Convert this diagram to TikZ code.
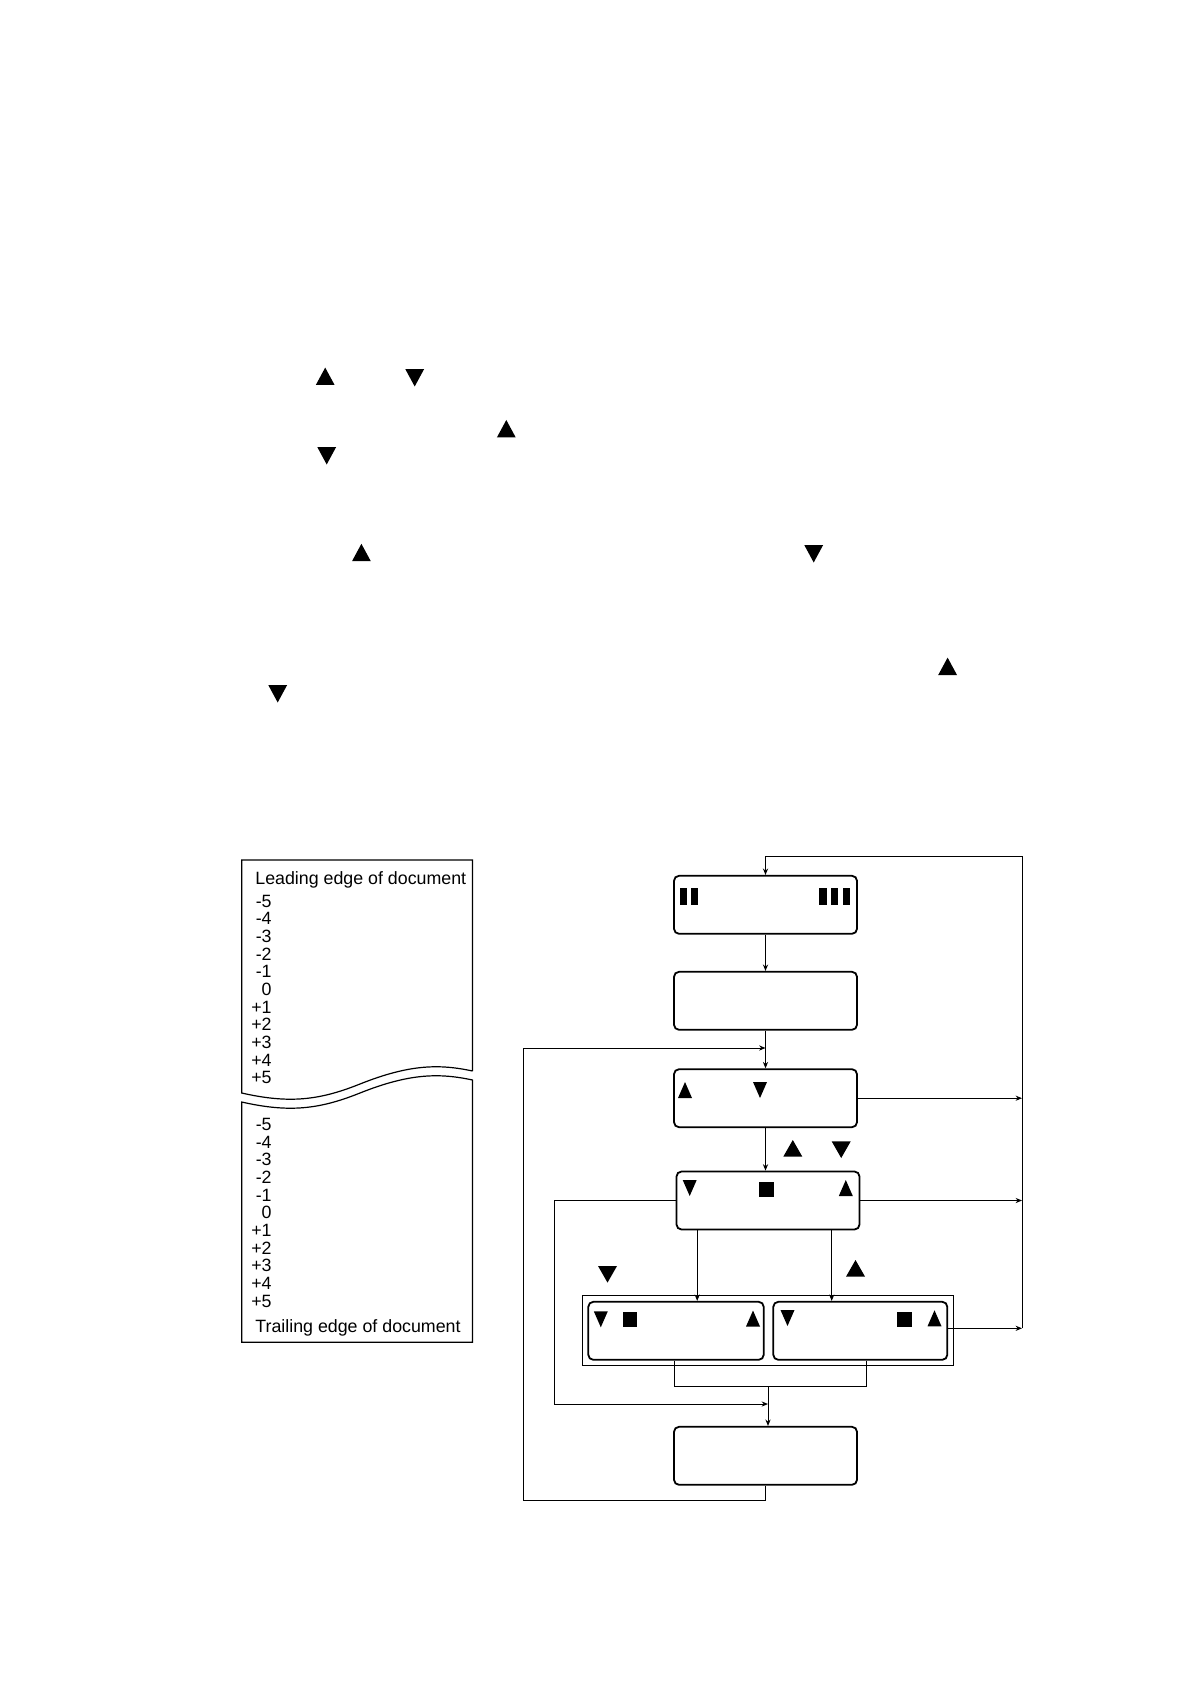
\documentclass[tikz,border=0pt]{standalone}
\usepackage{fontspec}
\setmainfont{Liberation Sans}
\usetikzlibrary{arrows.meta, calc, fit}

\tikzset{
  upmark/.pic = {\fill (-1,1) -- (1,1) -- (0,-1) -- cycle;},
  downmark/.pic = {\fill (-1,-1) -- (1,-1) -- (0,1) -- cycle;},
  stopmark/.pic = {\fill (-1,-1) rectangle (1,1);}
}

\begin{document}
\begin{tikzpicture}[x=0.5pt, y=-0.5pt, >={Stealth[length=3.2pt, width=2.6pt]},
  panel/.style = {draw, line width=0.9pt, rounded corners=2.5pt, inner sep=0pt,
                  minimum width=91.5pt, minimum height=29pt},
  link/.style = {line width=0.5pt},
  edgetext/.style = {inner sep=0pt, font=\fontsize{8.9pt}{10pt}\selectfont},
  textmark/.style = {xscale=9.4, yscale=8.7},
  panelmark/.style = {xscale=7, yscale=8},
  keymark/.style = {xscale=9.5, yscale=8.3},
  stopsize/.style = {scale=7.25}]
  \useasboundingbox (0,0) rectangle (1190,1684);

  % marks left over from the instructions
  \foreach \x/\y in {325.2/376.3, 506.3/428.7, 361.4/552.5, 947.6/666.3}
    \pic[textmark] at (\x,\y) {upmark};
  \foreach \x/\y in {414.7/377.8, 326.7/455.8, 813.7/553.8, 277.7/693.8}
    \pic[textmark] at (\x,\y) {downmark};

  % document sheet
  \draw[line width=0.6pt] (472.5,1071) -- (472.5,860) -- (241.7,860) -- (241.7,1093)
    .. controls (290,1104) and (320,1100) .. (360,1084)
    .. controls (410,1064) and (440,1064) .. (472.5,1071);
  \draw[line width=0.6pt] (241.7,1102)
    .. controls (290,1113) and (320,1109) .. (360,1093)
    .. controls (410,1073) and (440,1073) .. (472.5,1080)
    -- (472.5,1342.3) -- (241.7,1342.3) -- cycle;
  \node[edgetext, anchor=base west] (lead edge) at (255,884) {Leading edge of document};
  \foreach \val [count=\i from 0] in {-5,-4,-3,-2,-1,0,+1,+2,+3,+4,+5} {
    \node[edgetext, anchor=base east] (ln\i) at (272,{907+17.67*\i}) {\val};
    \node[edgetext, anchor=base east] (tn\i) at (272,{1130.5+17.67*\i}) {\val};
  }
  \node[edgetext, anchor=base west] (trail edge) at (255,1332.3) {Trailing edge of document};

  % display panels
  \node[panel] (ready) at (765.5,904.8) {};
  \node[panel] (menu) at (765.5,1000.8) {};
  \node[panel] (pick) at (765.5,1098.2) {};
  \node[panel] (side) at (768,1200.5) {};
  \node[panel, minimum width=87.7pt] (lead) at (676,1330.8) {};
  \node[panel, minimum width=87pt] (trail) at (860.3,1330.8) {};
  \node[draw, link, fit=(lead)(trail), inner sep=2.6pt] (pair) {};
  \node[panel] (done) at (765.5,1455.8) {};

  % panel contents
  \foreach \x in {680,690.5}
    \fill (\x,887.5) rectangle ++(7,17.5);
  \foreach \x in {819,830.8,842.5}
    \fill (\x,887.5) rectangle ++(7.6,17.5);
  \foreach \x/\y in {685/1090, 845.8/1188, 753/1318.5, 934.5/1318.3}
    \pic[panelmark] at (\x,\y) {upmark};
  \foreach \x/\y in {760/1090, 689.7/1188, 600.8/1319.3, 787.5/1318}
    \pic[panelmark] at (\x,\y) {downmark};
  \foreach \x/\y in {766.5/1189.3, 630/1319.7, 904.5/1319.3}
    \pic[stopsize] at (\x,\y) {stopmark};

  % key marks beside the connectors
  \pic[keymark] at (792.8,1148.3) {upmark};
  \pic[keymark] at (841.2,1149.7) {downmark};
  \pic[keymark] at (607.5,1274.3) {downmark};
  \pic[keymark] at (855.5,1268.3) {upmark};

  % connectors
  \coordinate (tr) at (1022,856);
  \coordinate (lbus) at (523,1500);
  \coordinate (rejoin) at (765.5,1048);
  \coordinate (sbus) at (554,1404);
  \coordinate (merge) at (768,1386.3);

  \draw[link,->] (ready.south) -- (menu.north);
  \draw[link,->] (menu.south) -- (pick.north);
  \draw[link,->] (pick.south) -- (pick.south |- side.north);
  \draw[link,->] ($(side.south west)+(21.6,0)$) coordinate (sl) -- (sl |- lead.north);
  \draw[link,->] ($(side.south east)+(-28.7,0)$) coordinate (sr) -- (sr |- trail.north);
  \draw[link] ($(lead.south)+(-1.7,0)$) |- (merge) -| ($(trail.south)+(6.4,0)$);
  \draw[link,->] (merge) -- (merge |- done.north);
  \draw[link,->] (done.south) |- (lbus) |- (rejoin);
  \draw[link,->] (side.west) -| (sbus) -- (sbus -| merge);
  \draw[link,->] (pick.east) -- (pick.east -| tr);
  \draw[link,->] (side.east) -- (side.east -| tr);
  \draw[link,->] ($(trail.east)+(0,-2.5)$) coordinate (te) -- (te -| tr);
  \draw[link,->] (te -| tr) -- (tr) -| (ready.north);
\end{tikzpicture}
\end{document}
